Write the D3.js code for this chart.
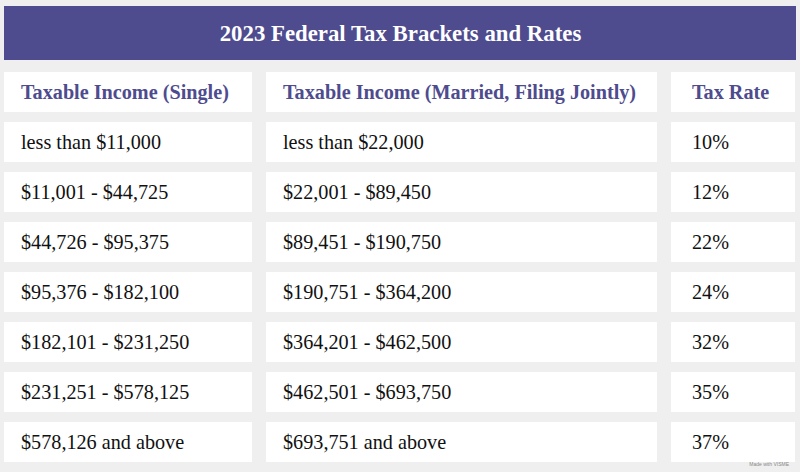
<!DOCTYPE html>
<html><head><meta charset="utf-8">
<script src="https://cdn.jsdelivr.net/npm/d3@7"></script>
<style>
html,body{margin:0;padding:0;background:#efefef;}
svg{display:block;}
</style></head>
<body>
<svg id="chart" width="800" height="472"></svg>
<script>
const title = "2023 Federal Tax Brackets and Rates";
const headers = ["Taxable Income (Single)", "Taxable Income (Married, Filing Jointly)", "Tax Rate"];
const singleIncome = ["less than $11,000", "$11,001 - $44,725", "$44,726 - $95,375", "$95,376 - $182,100", "$182,101 - $231,250", "$231,251 - $578,125", "$578,126 and above"];
const marriedIncome = ["less than $22,000", "$22,001 - $89,450", "$89,451 - $190,750", "$190,751 - $364,200", "$364,201 - $462,500", "$462,501 - $693,750", "$693,751 and above"];
const taxRates = ["10%", "12%", "22%", "24%", "32%", "35%", "37%"];

const purple = "#4e4b8e";
const svg = d3.select("#chart");
svg.append("rect").attr("width",800).attr("height",472).attr("fill","#efefef");

// title bar
svg.append("rect").attr("x",4).attr("y",6).attr("width",792).attr("height",54).attr("fill",purple);
svg.append("text").attr("x",400.5).attr("y",40.5).attr("text-anchor","middle")
  .attr("font-family","'Liberation Serif','Times New Roman',serif").attr("font-weight","bold")
  .attr("font-size",22.8).attr("fill","#fff").text(title);

// table
const rows = [headers].concat(singleIncome.map((s,i)=>[s, marriedIncome[i], taxRates[i]]));
const y = d3.scaleBand().domain(d3.range(rows.length)).range([72,462]).paddingInner(0.2).paddingOuter(0);
const cols = [{x0:4,x1:252,pad:17},{x0:266,x1:657,pad:17},{x0:671,x1:795,pad:21}];

const rowG = svg.selectAll("g.row").data(rows).join("g").attr("class","row")
  .attr("transform",(d,i)=>`translate(0,${y(i)})`);
rowG.each(function(r,ri){
  const g = d3.select(this);
  r.forEach((txt,ci)=>{
    const c = cols[ci];
    g.append("rect").attr("x",c.x0).attr("y",0).attr("width",c.x1-c.x0).attr("height",y.bandwidth()).attr("fill","#fff");
    g.append("text").attr("x",c.x0+c.pad).attr("y",y.bandwidth()/2+7)
      .attr("font-family","'Liberation Serif','Times New Roman',serif")
      .attr("font-size",20.2)
      .attr("font-weight",ri===0?"bold":"normal")
      .attr("fill",ri===0?purple:"#111")
      .text(txt);
  });
});

svg.append("text").attr("x",789).attr("y",466).attr("text-anchor","end")
  .attr("font-family","'Liberation Sans',Arial,sans-serif").attr("font-size",5).attr("fill","#888")
  .text("Made with VISME");
</script>
</body></html>
